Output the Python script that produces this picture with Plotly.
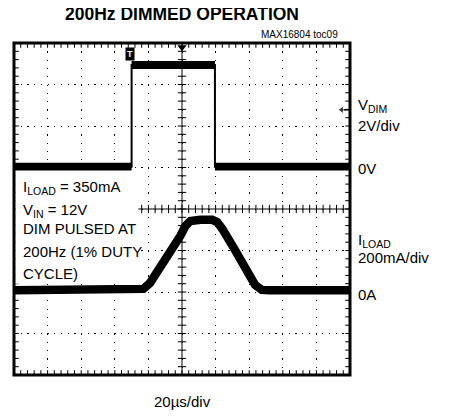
import numpy as np
import plotly.graph_objects as go

# scope capture, time in us from left edge of screen
t_dim = [0, 70, 70, 119.6, 119.6, 200]
v_dim = [0, 0, 4.9, 4.9, 0, 0]  # V

t_load = [0, 72, 77, 81, 87, 93, 99, 102, 105, 111, 118, 121, 124, 131.5, 139, 143.5, 147.5, 152, 200]
i_load = [0, 0, 7, 36, 108, 185, 262, 310, 334, 340, 340, 329, 296, 195, 89, 26, 2, 0, 0]  # mA

V_PER_DIV = 2.0
MA_PER_DIV = 200.0
DIM_ZERO = 1.02    # divisions from screen centre
LOAD_ZERO = -1.96
BAND = 0.095       # half thickness of the noisy VDIM trace, divisions

FONT = "Liberation Sans, Arial, sans-serif"

dim_y = np.array(v_dim) / V_PER_DIV + DIM_ZERO
load_y = np.array(i_load) / MA_PER_DIV + LOAD_ZERO

x_minor = np.arange(0, 200.1, 4)
y_minor = np.arange(-4, 4.01, 0.2)

fig = go.Figure()

# centre crosshair
fig.add_shape(type="line", x0=0, x1=200, y0=0, y1=0, line=dict(color="black", width=1), layer="below")
fig.add_shape(type="line", x0=100, x1=100, y0=-4, y1=4, line=dict(color="black", width=1), layer="below")
tick = dict(mode="markers", showlegend=False, hoverinfo="skip", cliponaxis=False)
fig.add_trace(go.Scatter(x=x_minor, y=np.zeros_like(x_minor),
                         marker=dict(symbol="line-ns", size=6, line=dict(width=1, color="black")), **tick))
fig.add_trace(go.Scatter(x=np.full_like(y_minor, 100), y=y_minor,
                         marker=dict(symbol="line-ew", size=6, line=dict(width=1, color="black")), **tick))

# small inward ticks along the screen edge (2px in from the edge, 4px long)
dy_edge = 2 / 41.5
dx_edge = 2 / 33.6 * 20
for yy in (-4 + dy_edge, 4 - dy_edge):
    fig.add_trace(go.Scatter(x=x_minor, y=np.full_like(x_minor, yy),
                             marker=dict(symbol="line-ns", size=4, line=dict(width=1, color="black")), **tick))
for xx in (dx_edge, 200 - dx_edge):
    fig.add_trace(go.Scatter(x=np.full_like(y_minor, xx), y=y_minor,
                             marker=dict(symbol="line-ew", size=4, line=dict(width=1, color="black")), **tick))

# VDIM: noise band + thin edge line
fig.add_trace(go.Scatter(x=t_dim, y=dim_y - BAND, mode="lines", line=dict(width=0, color="black"),
                         showlegend=False, hoverinfo="skip"))
fig.add_trace(go.Scatter(x=t_dim, y=dim_y + BAND, mode="lines", line=dict(width=0, color="black"),
                         fill="tonexty", fillcolor="black", showlegend=False, hoverinfo="skip"))
fig.add_trace(go.Scatter(x=t_dim, y=dim_y, mode="lines", line=dict(width=2, color="black"),
                         showlegend=False, name="VDIM"))

# ILOAD
fig.add_trace(go.Scatter(x=t_load, y=load_y, mode="lines", line=dict(width=8.5, color="black"),
                         showlegend=False, name="ILOAD"))

# trigger position marker and channel arrow
fig.add_trace(go.Scatter(x=[100], y=[3.9], mode="markers",
                         marker=dict(symbol="triangle-down", size=8, color="black"),
                         showlegend=False, hoverinfo="skip", cliponaxis=False))
fig.add_trace(go.Scatter(x=[195, 200], y=[2.39, 2.39], mode="lines+markers",
                         marker=dict(symbol="triangle-left", size=[7, 0], color="black"),
                         line=dict(color="black", width=1.5),
                         showlegend=False, hoverinfo="skip", cliponaxis=False))

# white box behind the conditions text (covers grid and crosshair)
fig.add_shape(type="rect", x0=0.8, x1=74, y0=-1.8, y1=0.82, fillcolor="white",
              line=dict(width=0), layer="above")
# screen frame
fig.add_shape(type="rect", xref="paper", yref="paper", x0=0, x1=1, y0=0, y1=1,
              line=dict(color="black", width=3), layer="above")

fig.add_annotation(x=69.3, y=3.74, text="<b>T</b>", showarrow=False, bgcolor="black",
                   font=dict(color="white", size=9, family=FONT), borderpad=1)

left_lines = ["I<sub>LOAD</sub> = 350mA", "V<sub>IN</sub> = 12V", "DIM PULSED AT",
              "200Hz (1% DUTY", "CYCLE)"]
left_y = [0.53, -0.03, -0.476, -1.03, -1.56]
for txt, yy in zip(left_lines, left_y):
    fig.add_annotation(x=4.0, y=yy, text=txt, showarrow=False, xanchor="left", yanchor="middle",
                       font=dict(size=15, family=FONT, color="black"))

right_lines = ["V<sub>DIM</sub>", "2V/div", "0V", "I<sub>LOAD</sub>", "200mA/div", "0A"]
right_y = [2.49, 2.02, 0.97, -0.76, -1.17, -2.06]
for txt, yy in zip(right_lines, right_y):
    fig.add_annotation(xref="paper", x=1.018, y=yy, text=txt, showarrow=False, xanchor="left",
                       yanchor="middle", font=dict(size=15, family=FONT, color="black"))

fig.add_annotation(xref="paper", yref="paper", x=0.5, y=1.0, yshift=29, text="<b>200Hz DIMMED OPERATION</b>",
                   showarrow=False, yanchor="middle", font=dict(size=17.5, family=FONT, color="black"))
fig.add_annotation(xref="paper", yref="paper", x=0.97, y=1.0, yshift=9, text="MAX16804 toc09",
                   showarrow=False, xanchor="right", yanchor="middle",
                   font=dict(size=10, family=FONT, color="black"))
fig.add_annotation(xref="paper", yref="paper", x=0.5, y=0, yshift=-26, text="20\u00b5s/div",
                   showarrow=False, yanchor="middle", font=dict(size=15, family=FONT, color="black"))

axis_common = dict(
    showgrid=True, gridcolor="black", gridwidth=1.2,
    showline=False, ticks="", showticklabels=False, zeroline=False, fixedrange=True,
)
# page body keeps its default 8px margin, so the figure is shrunk by that much
fig.update_layout(
    width=441, height=408,
    margin=dict(l=6, r=99, t=35, b=41),
    paper_bgcolor="white", plot_bgcolor="white",
    xaxis=dict(range=[0, 200], tick0=0, dtick=20, griddash="1.2px,7.1px", **axis_common),
    yaxis=dict(range=[-4, 4], tick0=0, dtick=1, griddash="1.2px,5.5px", **axis_common),
)

fig.write_html("out.html")
